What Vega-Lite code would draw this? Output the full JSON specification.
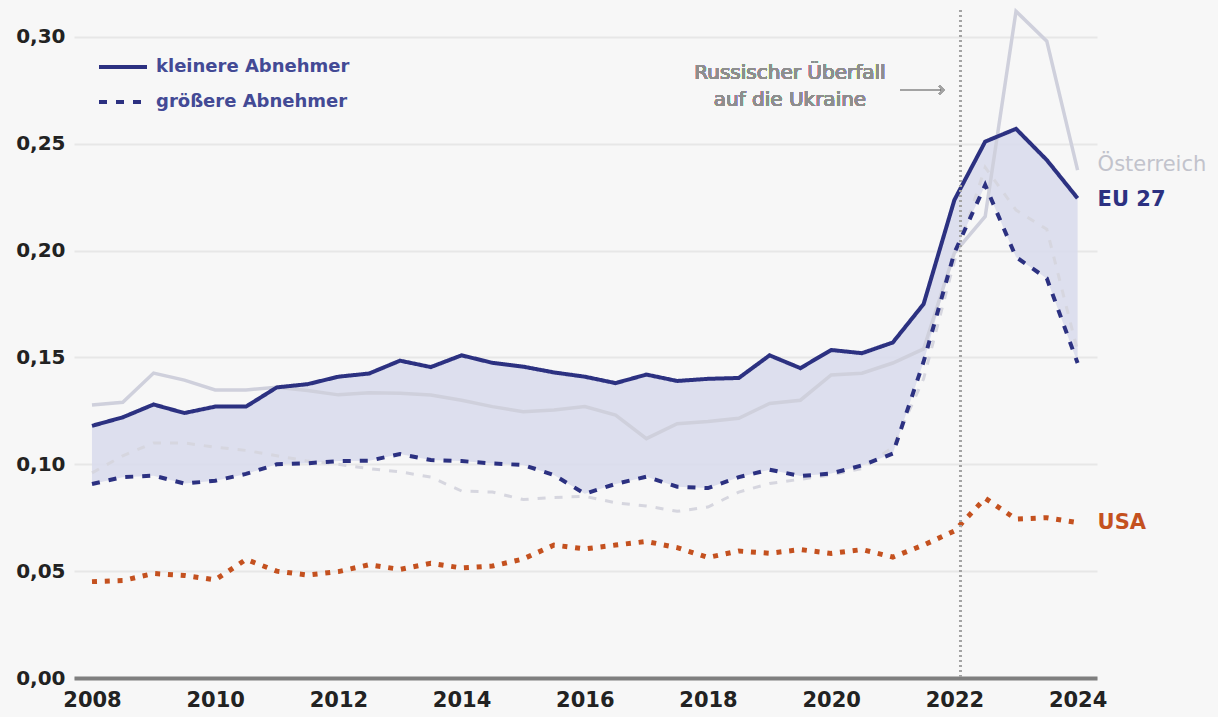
{
  "$schema": "https://vega.github.io/schema/vega-lite/v6.json",
  "width": 1023,
  "height": 668,
  "autosize": {"type": "none"},
  "padding": {"left": 74, "top": 10, "right": 121, "bottom": 39},
  "background": "#f7f7f7",
  "config": {"view": {"stroke": null}, "font": "DejaVu Sans"},
  "data": {"values": [
    {"t":2008,"EU_k":0.118,"EU_g":0.0908,"AT_k":0.1277,"AT_g":0.096,"USA":0.0451},
    {"t":2008.5,"EU_k":0.122,"EU_g":0.094,"AT_k":0.129,"AT_g":0.104,"USA":0.0456},
    {"t":2009,"EU_k":0.128,"EU_g":0.0947,"AT_k":0.1427,"AT_g":0.110,"USA":0.0489},
    {"t":2009.5,"EU_k":0.124,"EU_g":0.091,"AT_k":0.1394,"AT_g":0.110,"USA":0.048},
    {"t":2010,"EU_k":0.127,"EU_g":0.0923,"AT_k":0.1348,"AT_g":0.108,"USA":0.0459},
    {"t":2010.5,"EU_k":0.127,"EU_g":0.0955,"AT_k":0.1348,"AT_g":0.1065,"USA":0.0555},
    {"t":2011,"EU_k":0.136,"EU_g":0.100,"AT_k":0.136,"AT_g":0.104,"USA":0.050},
    {"t":2011.5,"EU_k":0.1375,"EU_g":0.1005,"AT_k":0.1345,"AT_g":0.1015,"USA":0.0482},
    {"t":2012,"EU_k":0.141,"EU_g":0.1015,"AT_k":0.1325,"AT_g":0.100,"USA":0.0498},
    {"t":2012.5,"EU_k":0.1425,"EU_g":0.1017,"AT_k":0.1335,"AT_g":0.098,"USA":0.053},
    {"t":2013,"EU_k":0.1485,"EU_g":0.1048,"AT_k":0.1333,"AT_g":0.0965,"USA":0.0508},
    {"t":2013.5,"EU_k":0.1455,"EU_g":0.102,"AT_k":0.1324,"AT_g":0.094,"USA":0.0537},
    {"t":2014,"EU_k":0.151,"EU_g":0.1015,"AT_k":0.130,"AT_g":0.0875,"USA":0.0515},
    {"t":2014.5,"EU_k":0.1475,"EU_g":0.1004,"AT_k":0.127,"AT_g":0.087,"USA":0.0524},
    {"t":2015,"EU_k":0.1457,"EU_g":0.0997,"AT_k":0.1246,"AT_g":0.0835,"USA":0.0557},
    {"t":2015.5,"EU_k":0.143,"EU_g":0.095,"AT_k":0.1254,"AT_g":0.0845,"USA":0.0622},
    {"t":2016,"EU_k":0.141,"EU_g":0.0862,"AT_k":0.127,"AT_g":0.085,"USA":0.0604},
    {"t":2016.5,"EU_k":0.138,"EU_g":0.0908,"AT_k":0.123,"AT_g":0.082,"USA":0.0622},
    {"t":2017,"EU_k":0.142,"EU_g":0.0942,"AT_k":0.112,"AT_g":0.0805,"USA":0.0639},
    {"t":2017.5,"EU_k":0.139,"EU_g":0.0895,"AT_k":0.119,"AT_g":0.078,"USA":0.061},
    {"t":2018,"EU_k":0.140,"EU_g":0.0889,"AT_k":0.120,"AT_g":0.080,"USA":0.0564},
    {"t":2018.5,"EU_k":0.1404,"EU_g":0.094,"AT_k":0.1215,"AT_g":0.087,"USA":0.0594},
    {"t":2019,"EU_k":0.151,"EU_g":0.0975,"AT_k":0.1285,"AT_g":0.091,"USA":0.0584},
    {"t":2019.5,"EU_k":0.145,"EU_g":0.0945,"AT_k":0.130,"AT_g":0.093,"USA":0.0601},
    {"t":2020,"EU_k":0.1535,"EU_g":0.0957,"AT_k":0.1418,"AT_g":0.095,"USA":0.0583},
    {"t":2020.5,"EU_k":0.152,"EU_g":0.0995,"AT_k":0.1426,"AT_g":0.098,"USA":0.0601},
    {"t":2021,"EU_k":0.157,"EU_g":0.105,"AT_k":0.1474,"AT_g":0.108,"USA":0.0566},
    {"t":2021.5,"EU_k":0.175,"EU_g":0.148,"AT_k":0.154,"AT_g":0.14,"USA":0.0622},
    {"t":2022,"EU_k":0.2237,"EU_g":0.199,"AT_k":0.199,"AT_g":0.195,"USA":0.0688},
    {"t":2022.5,"EU_k":0.251,"EU_g":0.2307,"AT_k":0.216,"AT_g":0.239,"USA":0.0841},
    {"t":2023,"EU_k":0.257,"EU_g":0.197,"AT_k":0.312,"AT_g":0.219,"USA":0.0744},
    {"t":2023.5,"EU_k":0.2424,"EU_g":0.187,"AT_k":0.298,"AT_g":0.21,"USA":0.075},
    {"t":2024,"EU_k":0.2245,"EU_g":0.1474,"AT_k":0.2377,"AT_g":0.153,"USA":0.0727}
  ]},
  "encoding": {
    "x": {
      "field": "t", "type": "quantitative",
      "scale": {"domain": [2007.708, 2024.315], "nice": false, "zero": false},
      "axis": {
        "title": null, "values": [2008,2010,2012,2014,2016,2018,2020,2022,2024], "format": "d",
        "grid": false, "ticks": false, "domain": true, "domainColor": "#7f7f7f", "domainWidth": 4,
        "labelFont": "DejaVu Sans", "labelFontSize": 21, "labelFontWeight": "bold", "labelColor": "#222222",
        "labelPadding": 11, "labelFlush": false
      }
    }
  },
  "layer": [
    {
      "mark": {"type": "area", "color": "#d9dbec", "opacity": 0.9},
      "encoding": {
        "y": {
          "field": "EU_k", "type": "quantitative",
          "scale": {"domain": [0, 0.3126], "nice": false},
          "axis": {
            "title": null, "values": [0,0.05,0.1,0.15,0.2,0.25,0.3],
            "labelExpr": "replace(format(datum.value, '.2f'), '.', ',')",
            "grid": true, "gridColor": "#e7e7e7", "gridWidth": 2,
            "domain": false, "ticks": false,
            "labelFont": "DejaVu Sans", "labelFontSize": 20, "labelFontWeight": "bold", "labelColor": "#222222",
            "labelPadding": 9
          }
        },
        "y2": {"field": "EU_g"}
      }
    },
    {
      "mark": {"type": "line", "color": "#cfd0dc", "strokeWidth": 3.5},
      "encoding": {"y": {"field": "AT_k", "type": "quantitative", "title": null}}
    },
    {
      "mark": {"type": "line", "color": "#d6d6df", "strokeWidth": 3, "strokeDash": [8, 9]},
      "encoding": {"y": {"field": "AT_g", "type": "quantitative", "title": null}}
    },
    {
      "transform": [{"fold": ["EU_k", "EU_g"], "as": ["typ", "wert"]}],
      "mark": {"type": "line", "color": "#2c3181", "strokeWidth": 4},
      "encoding": {
        "y": {"field": "wert", "type": "quantitative", "title": null},
        "strokeDash": {
          "field": "typ", "type": "nominal",
          "scale": {"domain": ["EU_k", "EU_g"], "range": [[1, 0], [8, 9]]},
          "legend": {
            "orient": "none", "legendX": 23, "legendY": 31, "title": null, "padding": 0,
            "symbolType": "stroke", "symbolSize": 2304, "symbolStrokeWidth": 4,
            "symbolStrokeColor": "#2c3181", "symbolOpacity": 1,
            "labelExpr": "datum.label == 'EU_k' ? 'kleinere Abnehmer' : 'größere Abnehmer'",
            "labelFont": "DejaVu Sans", "labelFontSize": 18, "labelFontWeight": "bold", "labelColor": "#434a95",
            "labelOffset": 7, "labelLimit": 500, "rowPadding": -6
          }
        }
      }
    },
    {
      "mark": {"type": "line", "color": "#c4511f", "strokeWidth": 5, "strokeDash": [5, 7.8], "strokeCap": "butt"},
      "encoding": {"y": {"field": "USA", "type": "quantitative", "title": null}}
    },
    {
      "mark": {"type": "rule", "color": "#a3a3a3", "strokeWidth": 2, "strokeDash": [2, 3]},
      "encoding": {"x": {"datum": 2022.1}}
    },
    {
      "mark": {"type": "text", "text": "Russischer Überfall", "font": "DejaVu Sans", "fontSize": 20, "fontWeight": "normal", "color": "#8e8e8e", "align": "center", "baseline": "middle"},
      "encoding": {"x": {"datum": 2019.33}, "y": {"datum": 0.2831}}
    },
    {
      "mark": {"type": "text", "text": "auf die Ukraine", "font": "DejaVu Sans", "fontSize": 20, "fontWeight": "normal", "color": "#8e8e8e", "align": "center", "baseline": "middle"},
      "encoding": {"x": {"datum": 2019.33}, "y": {"datum": 0.2705}}
    },
    {
      "mark": {"type": "rule", "color": "#a3a3a3", "strokeWidth": 2},
      "encoding": {"x": {"datum": 2021.12}, "x2": {"datum": 2021.8}, "y": {"datum": 0.2752}}
    },
    {
      "mark": {"type": "point", "shape": "M-1,-1L0,0L-1,1", "filled": false, "stroke": "#a3a3a3", "strokeWidth": 2, "size": 70, "opacity": 1},
      "encoding": {"x": {"datum": 2021.82}, "y": {"datum": 0.2752}}
    },
    {
      "transform": [{"filter": "datum.t == 2024"}],
      "mark": {"type": "text", "text": "Österreich", "font": "DejaVu Sans", "fontSize": 21, "color": "#c2c3cc", "align": "left", "baseline": "middle", "dx": 20, "dy": -5},
      "encoding": {"y": {"field": "AT_k", "type": "quantitative", "title": null}}
    },
    {
      "transform": [{"filter": "datum.t == 2024"}],
      "mark": {"type": "text", "text": "EU 27", "font": "DejaVu Sans", "fontSize": 21, "fontWeight": "bold", "color": "#2c3181", "align": "left", "baseline": "middle", "dx": 20, "dy": 2},
      "encoding": {"y": {"field": "EU_k", "type": "quantitative", "title": null}}
    },
    {
      "transform": [{"filter": "datum.t == 2024"}],
      "mark": {"type": "text", "text": "USA", "font": "DejaVu Sans", "fontSize": 21, "fontWeight": "bold", "color": "#c4511f", "align": "left", "baseline": "middle", "dx": 20, "dy": 0},
      "encoding": {"y": {"field": "USA", "type": "quantitative", "title": null}}
    }
  ]
}
